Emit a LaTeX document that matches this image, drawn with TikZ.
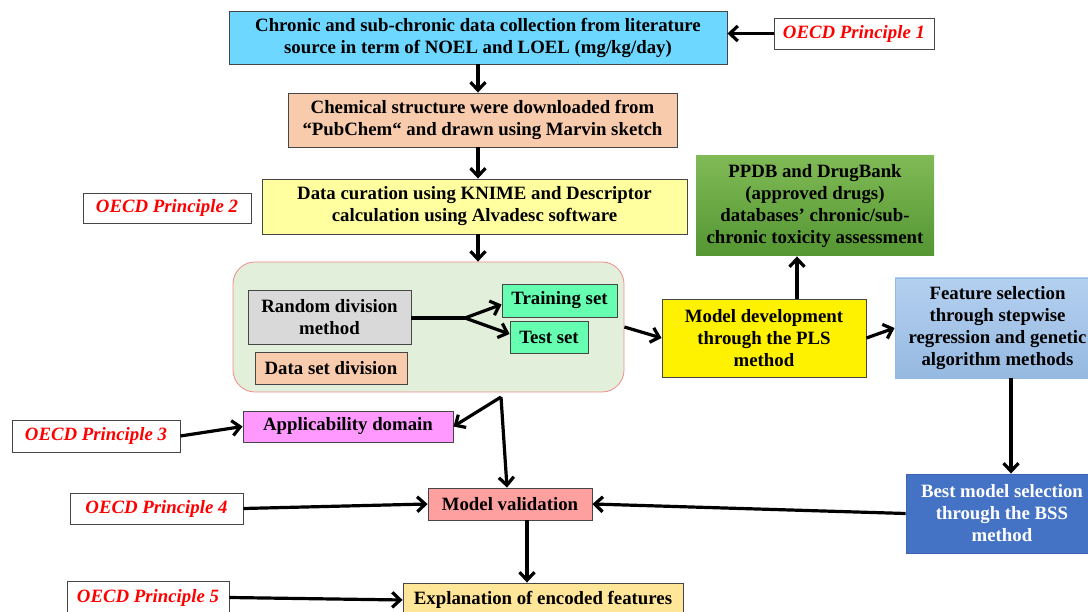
\documentclass[tikz,border=0pt]{standalone}
\usepackage{fontspec}
\setmainfont{Liberation Serif}
\usetikzlibrary{arrows.meta,calc}
\definecolor{cyanbox}{RGB}{110,215,255}
\definecolor{peach}{RGB}{248,203,173}
\definecolor{lightyel}{RGB}{255,255,160}
\definecolor{greentop}{RGB}{128,186,86}
\definecolor{greenbot}{RGB}{84,150,50}
\definecolor{contfill}{RGB}{226,239,218}
\definecolor{contline}{RGB}{240,140,140}
\definecolor{graybox}{RGB}{217,217,217}
\definecolor{mint}{RGB}{102,255,178}
\definecolor{bluetop}{RGB}{180,208,240}
\definecolor{bluebot}{RGB}{150,185,225}
\definecolor{bluebox}{RGB}{68,114,196}
\definecolor{pinkbox}{RGB}{255,153,255}
\definecolor{salmon}{RGB}{255,160,160}
\definecolor{creamy}{RGB}{255,230,153}
\definecolor{edge}{RGB}{70,70,70}
\tikzset{
  box/.style={draw=edge, line width=0.9pt, align=center, inner sep=0pt,
    font=\fontsize{18.8}{22}\selectfont\bfseries},
  oecd/.style={draw=edge, line width=0.9pt, fill=white, inner sep=0pt,
    text=red, font=\fontsize{18.8}{22}\selectfont\bfseries\itshape},
  arr/.style={line width=3.2pt, -{Straight Barb[length=8pt,width=15pt]}},
  plain/.style={line width=3.2pt}
}
\begin{document}
\begin{tikzpicture}[x=1pt,y=-1pt]
\useasboundingbox (0,0) rectangle (1088,612);
\clip (0,0) rectangle (1088,612);
% top chain
\node[box, fill=cyanbox, minimum width=498pt, minimum height=53pt] (top) at (478,37.5)
  {Chronic and sub-chronic data collection from literature\\source in term of NOEL and LOEL (mg/kg/day)};
\node[oecd, minimum width=160pt, minimum height=31pt] (o1) at (854,33.5) {OECD Principle 1};
\node[box, fill=peach, minimum width=389pt, minimum height=54pt] (chem) at (482.5,120)
  {Chemical structure were downloaded from\\``PubChem`` and drawn using Marvin sketch};
\node[box, fill=lightyel, minimum width=425pt, minimum height=55pt] (cur) at (474.5,206.5)
  {Data curation using KNIME and Descriptor\\calculation using Alvadesc software};
\node[oecd, minimum width=168pt, minimum height=30pt] (o2) at (167,208) {OECD Principle 2};
\node[box, top color=greentop, bottom color=greenbot, draw=none, minimum width=238pt, minimum height=100pt] (ppdb) at (815,206)
  {PPDB and DrugBank\\(approved drugs)\\databases' chronic/sub-\\chronic toxicity assessment};
% container
\node[draw=contline, line width=0.8pt, fill=contfill, rounded corners=22pt, minimum width=391pt, minimum height=130pt, inner sep=0pt] (cont) at (428.5,327) {};
\node[box, fill=graybox, minimum width=163pt, minimum height=54pt] (rand) at (329.5,317) {Random division\\method};
\node[box, fill=peach, minimum width=152pt, minimum height=32pt] (dsd) at (331,368) {Data set division};
\node[box, fill=mint, minimum width=115pt, minimum height=33pt] (tr) at (559.5,300.5) {Training set};
\node[box, fill=mint, minimum width=78pt, minimum height=32pt] (te) at (549,337) {Test set};
\coordinate (br) at (465,318);
% right side
\node[box, fill=yellow, minimum width=204pt, minimum height=78pt] (md) at (764,338)
  {Model development\\through the PLS\\method};
\node[box, top color=bluetop, bottom color=bluebot, draw={rgb,255:red,150;green,185;blue,225}, minimum width=205pt, minimum height=100pt] (feat) at (997.5,328)
  {Feature selection\\through stepwise\\regression and genetic\\algorithm methods};
\node[box, fill=bluebox, draw={rgb,255:red,60;green,100;blue,180}, text=white, minimum width=192pt, minimum height=79pt] (best) at (1002,513.5)
  {Best model selection\\through the BSS\\method};
% lower left
\node[box, fill=pinkbox, minimum width=210pt, minimum height=31pt] (app) at (348,426.5) {Applicability domain};
\node[oecd, minimum width=168pt, minimum height=32pt] (o3) at (96,436) {OECD Principle 3};
\node[box, fill=salmon, minimum width=164pt, minimum height=32pt] (mv) at (510,504) {Model validation};
\node[oecd, minimum width=173pt, minimum height=31pt] (o4) at (156.5,508.5) {OECD Principle 4};
\node[box, fill=creamy, minimum width=280pt, minimum height=34pt] (ex) at (543,600) {Explanation of encoded features};
\node[oecd, minimum width=162pt, minimum height=33pt] (o5) at (148,597.5) {OECD Principle 5};
\coordinate (cb) at (501,397);
\coordinate (mdup) at ($(md.north)+(33,0)$);
\coordinate (featdn) at ($(feat.south)+(13.5,0)$);
\coordinate (mvdn) at ($(mv.south)+(17,0)$);
% connectors
\draw[arr] (o1.west) -- (o1.west -| top.east);
\draw[arr] (top.south) -- (top.south |- chem.north);
\draw[arr] (top.south |- chem.south) -- (top.south |- cur.north);
\draw[arr] (top.south |- cur.south) -- (top.south |- cont.north);
\draw[plain] (rand.east |- br) -- (br);
\draw[arr] (br) -- ($(tr.west)+(0,4)$);
\draw[arr] (br) -- ($(te.west)+(0,-3)$);
\draw[arr] (cont.east) -- (md.west);
\draw[arr] (mdup) -- (mdup |- ppdb.south);
\draw[arr] (md.east) -- (feat.west);
\draw[arr] (featdn) -- (featdn |- best.north);
\draw[arr] (best.west) -- (mv.east);
\draw[arr] (cb) -- (app.east);
\draw[arr] (cb) -- ($(mv.north)+(-3,0)$);
\draw[arr] (o3.east) -- (app.west);
\draw[arr] (o4.east) -- (mv.west);
\draw[arr] (mvdn) -- (mvdn |- ex.north);
\draw[arr] (o5.east) -- (ex.west);
\end{tikzpicture}
\end{document}
